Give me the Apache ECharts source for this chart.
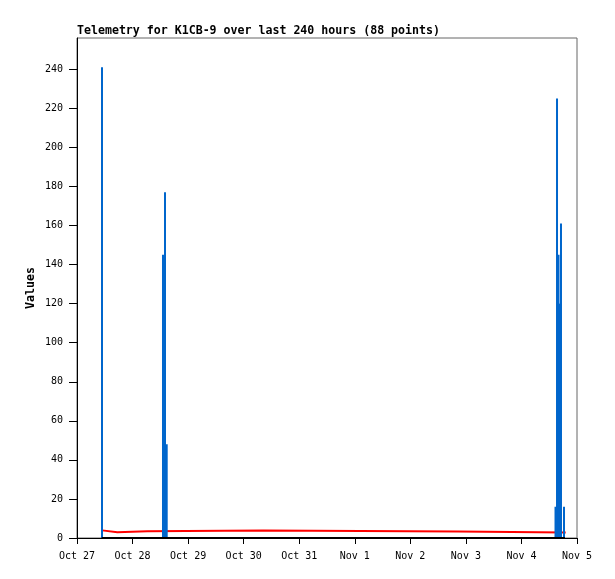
<!DOCTYPE html>
<html>
<head>
<meta charset="utf-8">
<style>
  html, body { margin: 0; padding: 0; background: #ffffff; }
  #chart { width: 615px; height: 579px; }
</style>
<script src="https://cdn.jsdelivr.net/npm/echarts@6/dist/echarts.min.js"></script>
</head>
<body>
<div id="chart"></div>
<script>
// ---- Data ----
const titleText = 'Telemetry for K1CB-9 over last 240 hours (88 points)';
const yAxisName = 'Values';
const year = 2024;

// x tick labels (one per day)
const xTickLabels = ['Oct 27', 'Oct 28', 'Oct 29', 'Oct 30', 'Oct 31', 'Nov 1', 'Nov 2', 'Nov 3', 'Nov 4', 'Nov 5'];
// y tick values
const yTickValues = [0, 20, 40, 60, 80, 100, 120, 140, 160, 180, 200, 220, 240];

// blue channel (spikes)
const blueTimes = ['10-27 10:48', '10-28 13:09', '10-28 14:01', '10-28 14:45',
                   '11-04 14:43', '11-04 15:22', '11-04 16:01', '11-04 16:26', '11-04 17:05', '11-04 18:23'];
const blueValues = [241, 145, 177, 48, 16, 225, 145, 120, 161, 16];

// red channel (slowly varying level)
const redTimes = ['10-27 10:53', '10-27 11:14', '10-27 17:25', '10-28 06:22', '10-30 08:29', '11-02 20:28', '11-04 19:07'];
const redValues = [3.9, 2.9, 3.4, 3.9, 3.3, 2.8, 2.8];

// black channel (always zero)
const blackTimes = ['10-27 10:40', '11-04 18:48'];
const blackValues = [0, 0];

// ---- helpers ----
const DAY = 86400000;
function toMs(s) {
  const m = s.match(/(\d+)-(\d+) (\d+):(\d+)/);
  return Date.UTC(year, +m[1] - 1, +m[2], +m[3], +m[4]);
}
function pairs(times, values) {
  return times.map((t, i) => [toMs(t), values[i]]);
}
const xMin = Date.UTC(year, 9, 27);
const xMax = xMin + (xTickLabels.length - 1) * DAY;

const mono = '"DejaVu Sans Mono", "Liberation Mono", monospace';

const chart = echarts.init(document.getElementById('chart'), null, { renderer: 'canvas' });
chart.setOption({
  animation: false,
  backgroundColor: '#ffffff',
  title: {
    text: titleText,
    left: 77,
    top: 25,
    padding: 0,
    textStyle: { fontFamily: mono, fontSize: 11.6, fontWeight: 'bold', color: '#000' }
  },
  grid: {
    left: 77, right: 38, top: 38, bottom: 41,
    show: true, borderColor: '#666', borderWidth: 1, backgroundColor: 'transparent',
    containLabel: false
  },
  xAxis: {
    type: 'value',
    min: xMin, max: xMax, interval: DAY,
    splitLine: { show: false },
    axisLine: { show: true, lineStyle: { color: '#000', width: 1 } },
    axisTick: { show: true, length: 6, inside: false, lineStyle: { color: '#000' } },
    axisLabel: {
      margin: 13,
      fontFamily: mono, fontSize: 10, color: '#000',
      showMinLabel: true, showMaxLabel: true,
      formatter: v => xTickLabels[Math.round((v - xMin) / DAY)] || ''
    }
  },
  yAxis: {
    type: 'value',
    min: 0, max: 256, interval: 20,
    name: yAxisName,
    nameLocation: 'middle',
    nameRotate: 90,
    nameGap: 40,
    nameMoveOverlap: false,
    nameTextStyle: { fontFamily: mono, fontSize: 11.6, fontWeight: 'bold', color: '#000' },
    splitLine: { show: false },
    axisLine: { show: true, lineStyle: { color: '#000', width: 1 } },
    axisTick: { show: true, length: 8, customValues: yTickValues, lineStyle: { color: '#000' } },
    axisLabel: {
      margin: 14,
      fontFamily: mono, fontSize: 10, color: '#000',
      customValues: yTickValues
    }
  },
  series: [
    {
      name: 'red', type: 'line', step: 'end', z: 2,
      showSymbol: false, symbol: 'none',
      lineStyle: { color: '#ff0000', width: 2 },
      data: pairs(redTimes, redValues)
    },
    {
      name: 'blue', type: 'bar', z: 3,
      barWidth: 2,
      itemStyle: { color: '#0066cc' },
      data: pairs(blueTimes, blueValues)
    },
    {
      name: 'black', type: 'line', z: 4,
      showSymbol: false, symbol: 'none',
      lineStyle: { color: '#000000', width: 2 },
      data: pairs(blackTimes, blackValues)
    }
  ]
});
</script>
</body>
</html>
